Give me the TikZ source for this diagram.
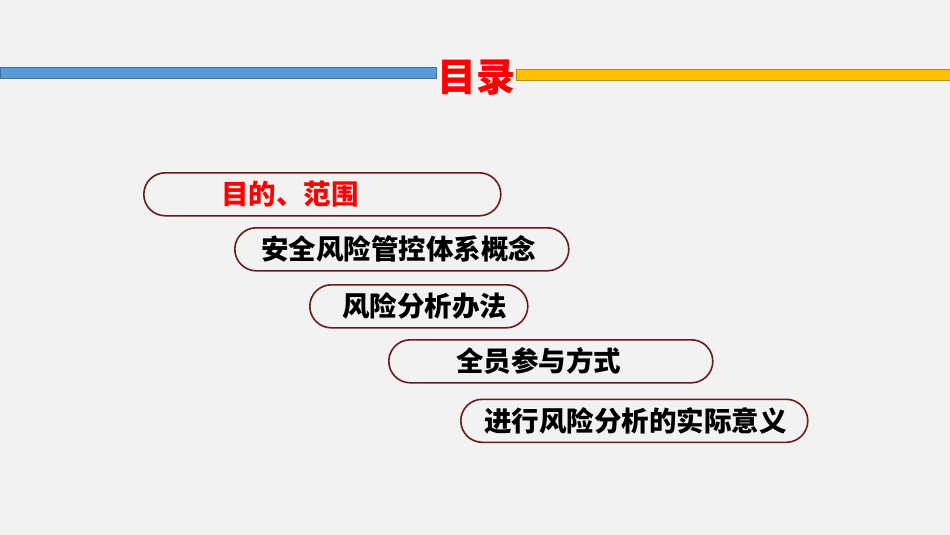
\documentclass[tikz,border=0pt]{standalone}
\usepackage{fontspec}
\newfontfamily\cjk{Noto Sans CJK SC}
\definecolor{bg}{HTML}{F2F2F2}
\definecolor{bluebar}{HTML}{5B9BD5}
\definecolor{blueedge}{HTML}{41719C}
\definecolor{yellowbar}{HTML}{FFC000}
\definecolor{yellowedge}{HTML}{BC8C00}
\definecolor{maroon}{HTML}{6E1A1A}
\definecolor{titlered}{HTML}{FF0000}
\tikzset{
  pill/.style={draw=maroon, line width=1.6pt, fill=bg, rounded corners=21.5pt,
    inner sep=0pt, minimum height=43pt, anchor=north west},
  itemtext/.style={font=\cjk\bfseries\fontsize{27.5pt}{30pt}\selectfont, text=black,
    inner sep=0pt, anchor=west},
}
\begin{document}
\begin{tikzpicture}[x=1pt,y=-1pt]
\fill[bg] (0,0) rectangle (950,535);
\useasboundingbox (0,0) rectangle (950,535);
% bars
\draw[fill=bluebar, draw=blueedge, line width=0.8pt] (0,67.5) rectangle (436,78.5);
\draw[fill=yellowbar, draw=yellowedge, line width=0.8pt] (516,69.5) rectangle (950,80.5);
\node[font=\cjk\bfseries\fontsize{39pt}{42pt}\selectfont, text=titlered, inner sep=0pt] (title) at (476,78) {目录};
% pills
\node[pill, minimum width=357pt] (p1) at (143,172) {};
\node[pill, minimum width=334pt] (p2) at (234,227) {};
\node[pill, minimum width=218pt] (p3) at (309,284) {};
\node[pill, minimum width=324pt] (p4) at (388,339) {};
\node[pill, minimum width=347pt] (p5) at (460,398.5) {};
% texts
\node[itemtext, text=titlered] (t1) at (221,0 |- p1.center) {目的、范围};
\node[itemtext] (t2) at (261,0 |- p2.center) {安全风险管控体系概念};
\node[itemtext] (t3) at (342,0 |- p3.center) {风险分析办法};
\node[itemtext] (t4) at (456,0 |- p4.center) {全员参与方式};
\node[itemtext] (t5) at (484,0 |- p5.center) {进行风险分析的实际意义};
\end{tikzpicture}
\end{document}
